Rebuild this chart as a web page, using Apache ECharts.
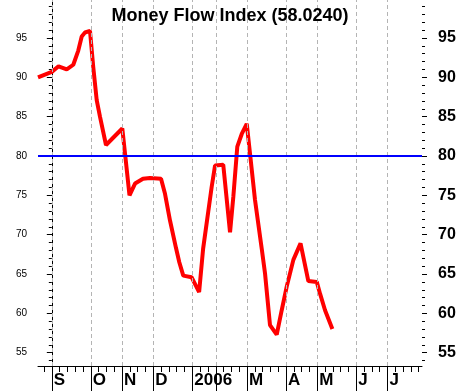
<!DOCTYPE html>
<html><head><meta charset="utf-8">
<script src="https://cdn.jsdelivr.net/npm/echarts@6/dist/echarts.min.js"></script>
<style>html,body{margin:0;padding:0;background:#fff}#c{width:460px;height:391px}</style>
</head><body><div id="c"></div>
<script>
// x positions in weeks (0 = start of September 2005)
const weeks = [-1.77,0.0,0.86,1.91,2.75,3.39,3.83,4.25,4.89,5.31,5.75,6.17,6.94,9.03,9.38,9.95,10.66,11.68,12.58,13.99,14.50,15.14,15.91,16.33,16.84,17.90,18.87,19.38,20.48,20.91,21.96,22.83,23.25,23.76,24.33,24.97,25.39,26.03,26.89,27.31,27.95,28.81,29.45,30.09,30.94,31.86,32.86,33.94,34.36,35.0,35.94];
const mfi = [90.0,90.7,91.4,91.0,91.6,93.4,95.2,95.7,95.9,91.3,87.1,85.0,81.4,83.5,80.3,75.0,76.5,77.1,77.2,77.1,75.2,71.8,68.3,66.5,64.8,64.6,62.7,68.2,76.1,78.8,78.9,70.3,74.8,81.2,82.8,84.1,80.3,74.4,68.2,65.1,58.5,57.3,60.4,63.4,66.8,68.9,64.1,64.0,62.5,60.4,58.024];
const monthStarts = [0,5,9,13,18,21,25,30,34,39,43];
const monthLabels = ['S','O','N','D','2006','','M','A','M','J','J'];
const weekTicks = [-1,0,1,2,3,4,5,6,7,8,9,10,11,12,13,14,15,16,17,18,19,20,21,22,23,24,25,26,27,28,29,30,31,32,33,34,35,36,37,38,39,40,41,42,43,44,45,46,47];
const yMajor = [55,60,65,70,75,80,85,90,95];
const yMinor = [54,55,56,57,58,59,60,61,62,63,64,65,66,67,68,69,70,71,72,73,74,75,76,77,78,79,80,81,82,83,84,85,86,87,88,89,90,91,92,93,94,95,96,97,98,99];
const refLevel = 80;
const titleText = 'Money Flow Index (58.0240)';

const X_MIN = -1.77, X_MAX = 47.42, Y_MIN = 53.31, Y_MAX = 99.83;
const FONT = 'Liberation Sans, Arial, sans-serif';
const chart = echarts.init(document.getElementById('c'), null, {renderer:'canvas'});
const lineData = weeks.map((w,i)=>[w, mfi[i]]);
const yBase = {type:'value', min:Y_MIN, max:Y_MAX, splitLine:{show:false}};
const xBase = {type:'value', min:X_MIN, max:X_MAX, position:'bottom', splitLine:{show:false}};
chart.setOption({
  animation:false,
  backgroundColor:'#fff',
  title:{text:titleText, left:'center', top:2, textStyle:{fontFamily:FONT, fontSize:18, fontWeight:'bold', color:'#000'}},
  grid:{left:38, right:38, top:0, bottom:25, containLabel:false},
  xAxis:[
    Object.assign({}, xBase, {axisLine:{show:true, lineStyle:{color:'#000', width:1}},
      axisTick:{show:true, customValues:weekTicks, length:6, lineStyle:{color:'#000', width:1}},
      axisLabel:{show:false}}),
    Object.assign({}, xBase, {axisLine:{show:false},
      axisTick:{show:true, customValues:monthStarts, length:25, lineStyle:{color:'#000', width:1}},
      axisLabel:{show:true, customValues:monthStarts, margin:6, align:'left', padding:[0,0,0,2],
        fontFamily:FONT, fontSize:17, fontWeight:'bold', color:'#000',
        formatter:function(v){const i=monthStarts.indexOf(Math.round(v)); return i>=0?monthLabels[i]:'';}}})
  ],
  yAxis:[
    Object.assign({}, yBase, {position:'left', axisLine:{show:true, lineStyle:{color:'#000', width:1}},
      axisTick:{show:true, customValues:yMinor, length:3, lineStyle:{color:'#000'}}, axisLabel:{show:false}}),
    Object.assign({}, yBase, {position:'left', axisLine:{show:false},
      axisTick:{show:true, customValues:yMajor, length:5, lineStyle:{color:'#000'}},
      axisLabel:{show:true, customValues:yMajor, margin:11, fontFamily:FONT, fontSize:10, color:'#000'}}),
    Object.assign({}, yBase, {position:'right', axisLine:{show:false},
      axisTick:{show:true, customValues:yMinor, length:3, lineStyle:{color:'#000'}}, axisLabel:{show:false}}),
    Object.assign({}, yBase, {position:'right', axisLine:{show:false},
      axisTick:{show:true, customValues:yMajor, length:5, lineStyle:{color:'#000'}},
      axisLabel:{show:true, customValues:yMajor, margin:16, fontFamily:FONT, fontSize:16, fontWeight:'bold', color:'#000'}})
  ],
  series:[
    {type:'line', xAxisIndex:0, yAxisIndex:0, data:lineData, symbol:'none', silent:true, z:1,
     lineStyle:{opacity:0, width:0},
     markLine:{silent:true, symbol:['none','none'], label:{show:false}, animation:false,
       data:[].concat(
         monthStarts.map(v=>({xAxis:v, lineStyle:{color:'#b4b4b4', width:1, type:[4,3]}})),
         [{yAxis:refLevel, lineStyle:{color:'#0000ff', width:2, type:'solid'}}]
       )}},
    {type:'line', xAxisIndex:0, yAxisIndex:0, data:lineData, symbol:'none', showSymbol:false, z:3,
     lineStyle:{color:'#ff0000', width:4}}
  ]
});
</script></body></html>
